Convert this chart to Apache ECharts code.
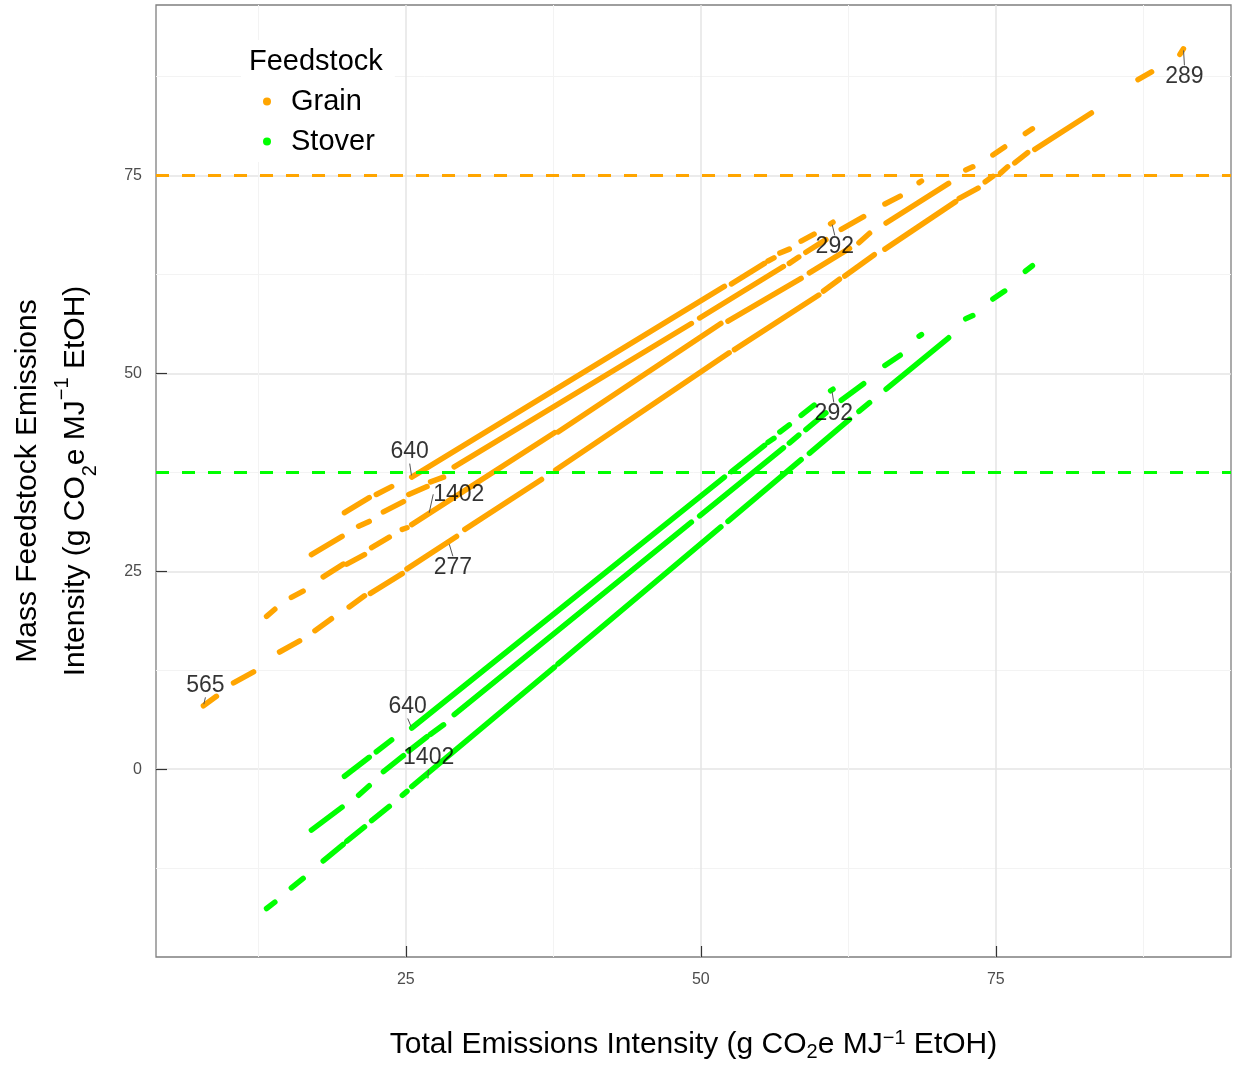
<!DOCTYPE html>
<html>
<head>
<meta charset="utf-8">
<title>Feedstock emissions intensity</title>
<script src="https://cdn.jsdelivr.net/npm/echarts@6/dist/echarts.min.js"></script>
<style>
  html, body { margin: 0; padding: 0; background: #ffffff; }
  #chart { width: 1233px; height: 1065px; }
</style>
</head>
<body>
<div id="chart"></div>
<script>
// Each streak of county points is stored as a run: [xStart, yStart, xEnd, yEnd]
// (x = total emissions intensity, y = mass feedstock emissions intensity).

// Grain, upper band
const grainBand1 = [
  [19.8, 32.4, 21.9, 34.3],
  [22.5, 34.7, 23.8, 35.7],
  [25.5, 36.9, 52.0, 61.0],
  [52.6, 61.3, 55.4, 63.9],
  [55.7, 64.2, 56.2, 64.6],
  [56.7, 65.2, 57.5, 65.7],
  [58.5, 66.7, 59.6, 67.6],
  [61.0, 68.9, 61.2, 69.1]
];
// Grain, second band
const grainBand2 = [
  [17.0, 27.1, 19.6, 29.4],
  [21.0, 30.7, 21.9, 31.3],
  [23.1, 32.5, 24.8, 33.8],
  [25.25, 34.7, 26.8, 35.7],
  [27.1, 36.3, 28.2, 36.9],
  [29.1, 38.2, 49.2, 56.3],
  [49.9, 57.0, 57.0, 63.5],
  [57.5, 63.9, 58.3, 64.7],
  [58.9, 65.3, 60.6, 66.9],
  [61.9, 68.2, 63.8, 69.8],
  [65.6, 71.4, 66.9, 72.4],
  [68.5, 74.1, 68.7, 74.3]
];
// Grain, third band
const grainBand3 = [
  [13.2, 19.3, 13.9, 20.2],
  [15.3, 21.7, 16.3, 22.5],
  [18.0, 24.3, 19.7, 25.9],
  [20.0, 25.9, 21.5, 27.1],
  [22.1, 28.0, 23.6, 29.3],
  [24.7, 30.3, 25.1, 30.5],
  [25.5, 30.9, 37.6, 42.5],
  [37.9, 42.6, 51.7, 56.3],
  [52.3, 56.6, 58.5, 62.0],
  [59.2, 62.7, 62.6, 65.8],
  [63.4, 66.5, 64.3, 67.7],
  [65.7, 69.0, 71.0, 74.0],
  [72.45, 75.7, 73.05, 76.1],
  [74.75, 77.6, 75.75, 78.6],
  [77.5, 80.3, 78.1, 80.9]
];
// Grain, lower band
const grainBand4 = [
  [7.85, 8.0, 8.95, 9.2],
  [10.4, 10.9, 12.1, 12.3],
  [14.3, 14.8, 16.0, 16.2],
  [17.3, 17.5, 18.7, 19.0],
  [20.2, 20.5, 21.5, 21.9],
  [22.0, 22.2, 24.7, 24.7],
  [25.1, 25.3, 29.3, 29.4],
  [30.0, 30.3, 36.5, 36.6],
  [37.7, 37.8, 52.4, 52.6],
  [52.85, 53.0, 60.0, 59.9],
  [60.4, 60.4, 61.75, 61.9],
  [62.2, 62.3, 64.7, 65.0],
  [65.6, 65.7, 71.6, 71.7],
  [71.9, 72.1, 73.5, 73.4],
  [74.1, 74.2, 74.75, 74.9],
  [75.4, 75.3, 76.0, 76.1],
  [76.6, 76.6, 77.7, 77.9],
  [78.3, 78.3, 83.1, 82.9],
  [87.05, 87.1, 88.2, 88.1],
  [90.6, 90.3, 90.9, 91.0]
];

// Stover, upper band
const stoverBand1 = [
  [19.8, -0.9, 21.9, 1.5],
  [22.5, 2.2, 23.8, 3.7],
  [25.5, 5.2, 52.0, 36.9],
  [52.6, 37.6, 55.4, 40.9],
  [55.7, 41.3, 56.2, 41.8],
  [56.7, 42.6, 57.5, 43.5],
  [58.5, 44.7, 59.6, 46.0],
  [61.0, 47.8, 61.2, 48.0]
];
// Stover, middle band
const stoverBand2 = [
  [17.0, -7.7, 19.6, -4.8],
  [21.0, -3.3, 21.9, -2.1],
  [23.1, -0.3, 24.8, 1.7],
  [25.25, 2.3, 26.8, 4.1],
  [27.1, 4.4, 28.2, 5.6],
  [29.1, 6.9, 49.2, 31.2],
  [49.9, 32.0, 57.0, 40.6],
  [57.5, 41.2, 58.3, 42.2],
  [58.9, 42.9, 60.6, 45.0],
  [61.9, 46.6, 63.8, 48.7],
  [65.6, 51.0, 66.9, 52.3],
  [68.5, 54.7, 68.7, 54.9]
];
// Stover, lower band
const stoverBand3 = [
  [13.2, -17.6, 13.9, -16.8],
  [15.3, -15.0, 16.3, -13.8],
  [18.0, -11.6, 19.7, -9.5],
  [20.0, -9.1, 21.5, -7.3],
  [22.1, -6.5, 23.6, -4.7],
  [24.7, -3.3, 25.1, -2.8],
  [25.5, -2.2, 37.6, 12.9],
  [37.9, 13.3, 51.7, 30.6],
  [52.3, 31.3, 58.5, 39.1],
  [59.2, 39.9, 62.6, 44.2],
  [63.4, 45.2, 64.3, 46.3],
  [65.7, 48.0, 71.0, 54.5],
  [72.45, 56.9, 73.05, 57.3],
  [74.75, 59.4, 75.75, 60.4],
  [77.5, 62.9, 78.1, 63.6]
];

// Labelled counties
const grainIds = ['565', '640', '1402', '277', '292', '289'];
const grainIdX = [7.85, 25.5, 26.95, 28.65, 61.1, 90.9];
const grainIdY = [8.0, 36.9, 32.2, 28.6, 69.0, 91.0];
const stoverIds = ['640', '1402', '292'];
const stoverIdX = [25.5, 26.85, 61.1];
const stoverIdY = [5.2, -1.0, 47.9];

// Reference levels (dashed)
const grainReference = 75;
const stoverReference = 37.5;

// Axes
const xTicks = [25, 50, 75];
const yTicks = [0, 25, 50, 75];
const xMinorGrid = [12.5, 37.5, 62.5, 87.5];
const yMinorGrid = [-12.5, 12.5, 37.5, 62.5, 87.5];
const xRange = [3.83, 94.93];
const yRange = [-23.73, 96.54];

// ---------------------------------------------------------------------------
const GRAIN = '#FFA500';
const STOVER = '#00FF00';
const FONT = "'Liberation Sans', Arial, Helvetica, sans-serif";

function runsToPath(bands) {
  const path = [];
  bands.forEach(function (band) {
    band.forEach(function (r) {
      path.push([r[0], r[1]], [r[2], r[3]], ['-', '-']);
    });
  });
  return path;
}

// label offsets in pixels (dx, dy) from each labelled point
const grainNudge = [[2, -20], [-2, -25], [30, -20], [4, 25], [3, 24], [1, 28]];
const stoverNudge = [[-4, -21], [1, -19], [2, 24]];

function idSeries(name, color, ids, xs, ys, nudge) {
  return {
    type: 'scatter',
    name: name,
    z: 6,
    symbolSize: 3,
    itemStyle: { color: color },
    data: ids.map(function (id, i) { return { name: id, value: [xs[i], ys[i]] }; }),
    label: {
      show: true,
      position: 'inside',
      formatter: '{b}',
      fontFamily: FONT,
      fontSize: 23,
      color: '#000000'
    },
    labelLine: { show: true, lineStyle: { color: '#555555', width: 1 } },
    labelLayout: function (p) {
      return { dx: nudge[p.dataIndex][0], dy: nudge[p.dataIndex][1], hideOverlap: false };
    },
    emphasis: { disabled: true },
    silent: true
  };
}

function streakSeries(name, color, bands, refLevel, z) {
  return {
    type: 'line',
    name: name,
    color: color,
    z: z,
    data: runsToPath(bands),
    connectNulls: false,
    showSymbol: false,
    symbol: 'none',
    lineStyle: { color: color, width: 5.5, cap: 'round', join: 'round' },
    emphasis: { disabled: true },
    silent: true,
    markLine: {
      silent: true,
      symbol: ['none', 'none'],
      label: { show: false },
      lineStyle: { color: color, width: 3, type: [13, 13] },
      data: [{ yAxis: refLevel }]
    }
  };
}

const titleRich = {
  sub: { fontFamily: FONT, fontSize: 20, color: '#000', verticalAlign: 'bottom', lineHeight: 22 },
  sup: { fontFamily: FONT, fontSize: 20, color: '#000', verticalAlign: 'top', lineHeight: 13 }
};
const yTitleRich = {
  sub: { fontFamily: FONT, fontSize: 20, color: '#000', verticalAlign: 'bottom', lineHeight: 36 },
  sup: { fontFamily: FONT, fontSize: 20, color: '#000', verticalAlign: 'top', lineHeight: 25 }
};

const chart = echarts.init(document.getElementById('chart'), null, { renderer: 'canvas' });

chart.setOption({
  animation: false,
  backgroundColor: '#ffffff',
  textStyle: { fontFamily: FONT },
  grid: {
    left: 156, top: 5, right: 2, bottom: 108,
    show: true, borderColor: '#7f7f7f', borderWidth: 1.3,
    backgroundColor: 'transparent',
    outerBoundsMode: 'none'
  },
  xAxis: [
    {
      type: 'value', min: xRange[0], max: xRange[1], position: 'bottom',
      axisLine: { show: false, onZero: false },
      axisTick: { show: true, inside: true, length: 11, customValues: xTicks, lineStyle: { color: '#333333', width: 1.2 } },
      axisLabel: { customValues: xTicks, color: '#4d4d4d', fontSize: 16, margin: 15, fontFamily: FONT },
      splitLine: { show: true, lineStyle: { color: '#e4e4e4', width: 1.5 } },
      name: 'Total Emissions Intensity (g CO{sub|2}e MJ{sup|\u22121} EtOH)',
      nameLocation: 'middle',
      nameGap: 71,
      nameMoveOverlap: false,
      nameTextStyle: { fontFamily: FONT, fontSize: 30, color: '#000', lineHeight: 34, rich: titleRich }
    },
    {
      type: 'value', min: xRange[0], max: xRange[1], position: 'top',
      axisLine: { show: false, onZero: false },
      axisTick: { show: false, customValues: xMinorGrid },
      axisLabel: { show: false, customValues: xMinorGrid },
      splitLine: { show: true, lineStyle: { color: '#f3f3f3', width: 1 } }
    }
  ],
  yAxis: [
    {
      type: 'value', min: yRange[0], max: yRange[1], position: 'left',
      axisLine: { show: false, onZero: false },
      axisTick: { show: true, inside: true, length: 11, customValues: yTicks, lineStyle: { color: '#333333', width: 1.2 } },
      axisLabel: { customValues: yTicks, color: '#4d4d4d', fontSize: 16, margin: 14, fontFamily: FONT },
      splitLine: { show: true, lineStyle: { color: '#e4e4e4', width: 1.5 } },
      name: 'Mass Feedstock Emissions\nIntensity (g CO{sub|2}e MJ{sup|\u22121} EtOH)',
      nameLocation: 'middle',
      nameRotate: 90,
      nameGap: 56,
      nameMoveOverlap: false,
      nameTextStyle: { fontFamily: FONT, fontSize: 30, color: '#000', lineHeight: 48, align: 'center', rich: yTitleRich }
    },
    {
      type: 'value', min: yRange[0], max: yRange[1], position: 'right',
      axisLine: { show: false, onZero: false },
      axisTick: { show: false, customValues: yMinorGrid },
      axisLabel: { show: false, customValues: yMinorGrid },
      splitLine: { show: true, lineStyle: { color: '#f3f3f3', width: 1 } }
    }
  ],
  legend: {
    data: ['Grain', 'Stover'],
    orient: 'vertical',
    left: 241,
    top: 40,
    padding: [47, 20, 6, 22],
    backgroundColor: '#ffffff',
    icon: 'circle',
    itemWidth: 8,
    itemHeight: 8,
    itemGap: 11,
    selectedMode: false,
    textStyle: { fontFamily: FONT, fontSize: 29, color: '#000', padding: [0, 0, 0, 15] }
  },
  graphic: [
    {
      type: 'text',
      left: 249,
      top: 47,
      z: 100,
      style: { text: 'Feedstock', fontFamily: FONT, fontSize: 29, fill: '#000' }
    }
  ],
  series: [
    streakSeries('Grain', GRAIN, [grainBand1, grainBand2, grainBand3, grainBand4], grainReference, 2),
    streakSeries('Stover', STOVER, [stoverBand1, stoverBand2, stoverBand3], stoverReference, 3),
    idSeries('Grain IDs', GRAIN, grainIds, grainIdX, grainIdY, grainNudge),
    idSeries('Stover IDs', STOVER, stoverIds, stoverIdX, stoverIdY, stoverNudge)
  ]
});
</script>
</body>
</html>
